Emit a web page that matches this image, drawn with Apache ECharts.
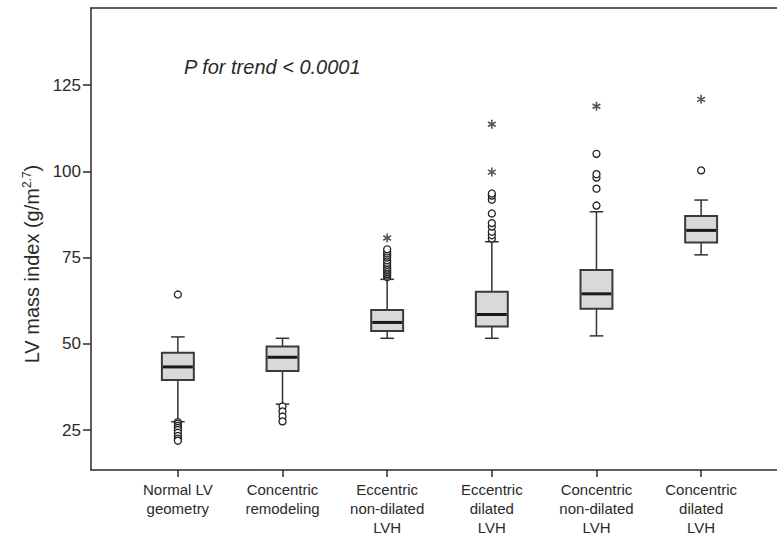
<!DOCTYPE html>
<html><head><meta charset="utf-8">
<script src="https://cdn.jsdelivr.net/npm/echarts@6/dist/echarts.min.js"></script>
<style>html,body{margin:0;padding:0;background:#fff;overflow:hidden}#c{width:777px;height:537px}</style>
</head><body><div id="c"></div>
<script>
const categories = ['Normal LV\ngeometry', 'Concentric\nremodeling', 'Eccentric\nnon-dilated\nLVH', 'Eccentric\ndilated\nLVH', 'Concentric\nnon-dilated\nLVH', 'Concentric\ndilated\nLVH'];
// [lower whisker, Q1, median, Q3, upper whisker]
const boxStats = [
  [27.4, 39.5, 43.3, 47.4, 52.0],
  [32.5, 42.1, 46.1, 49.2, 51.6],
  [51.6, 53.7, 56.2, 59.8, 68.7],
  [51.6, 55.0, 58.5, 65.1, 79.6],
  [52.3, 60.2, 64.5, 71.4, 88.3],
  [75.8, 79.4, 82.9, 87.1, 91.7]
];
const outlierValues = [
  [64.3, 27.3, 26.8, 26.2, 25.6, 25.0, 24.2, 23.3, 22.5, 21.9],
  [31.8, 30.4, 28.9, 27.5],
  [69.3, 69.8, 70.3, 70.8, 71.3, 71.8, 72.3, 72.9, 73.5, 74.2, 75.0, 75.6, 76.2, 76.8, 77.4],
  [80.5, 81.5, 82.5, 84.0, 85.0, 87.8, 91.8, 93.0, 93.6],
  [90.1, 95.0, 98.2, 99.2, 105.1],
  [100.3]
];
const extremeValues = [
  [],
  [],
  [80.7],
  [99.8, 113.7],
  [118.9],
  [120.9]
];
const yTicks = [25, 50, 75, 100, 125];
const annotation = 'P for trend < 0.0001';

const catPos = categories.map((c, i) => i + 1);
const boxData = boxStats.map((s, i) => [catPos[i]].concat(s));
const outData = [];
outlierValues.forEach((arr, i) => arr.forEach(v => outData.push([catPos[i], v])));
const extData = [];
extremeValues.forEach((arr, i) => arr.forEach(v => extData.push([catPos[i], v])));

const ink = '#2a2a2a';
const chart = echarts.init(document.getElementById('c'), null, {renderer: 'svg'});
chart.setOption({
  animation: false,
  backgroundColor: '#fff',
  grid: {left: 91, right: 0, top: 8, bottom: 67, show: false},
  xAxis: [{
    type: 'value', min: 0.17, max: 6.725,
    axisLine: {show: true, lineStyle: {color: ink, width: 1.5}},
    axisTick: {show: true, customValues: catPos, length: 7, lineStyle: {color: ink, width: 1.5}},
    axisLabel: {customValues: catPos, formatter: v => categories[Math.round(v) - 1], fontSize: 15, lineHeight: 19, color: ink, margin: 10, fontFamily: 'Liberation Sans'},
    splitLine: {show: false}
  }, {
    type: 'value', position: 'top', min: 0.17, max: 6.725,
    axisLine: {show: true, lineStyle: {color: ink, width: 1.5}},
    axisTick: {show: false}, axisLabel: {show: false}, splitLine: {show: false}
  }],
  yAxis: {
    type: 'value', min: 13.4, max: 147.4,
    axisLine: {show: true, lineStyle: {color: ink, width: 1.5}},
    axisTick: {show: true, customValues: yTicks, length: 8, lineStyle: {color: ink, width: 1.5}},
    axisLabel: {customValues: yTicks, fontSize: 17, color: ink, margin: 10, fontFamily: 'Liberation Sans'},
    splitLine: {show: false},
    name: '{a|LV mass index (g/m}{s|2.7}{a|)}',
    nameLocation: 'middle', nameGap: 47, nameRotate: 90,
    nameTextStyle: {padding: [0, 50, 0, 0], rich: {a: {fontSize: 20, color: ink, fontFamily: 'Liberation Sans'}, s: {fontSize: 12, color: ink, verticalAlign: 'top', padding: [0, 0, 10, 0], fontFamily: 'Liberation Sans'}}}
  },
  graphic: [{
    type: 'text', left: 184, top: 57,
    style: {text: annotation, fontSize: 20, fontStyle: 'italic', fill: ink, fontFamily: 'Liberation Sans'}
  }],
  series: [
    {
      type: 'custom', data: boxData, z: 2,
      renderItem: function (params, api) {
        const x = api.value(0);
        const unit = api.size([1, 0])[0];
        const bw = unit * 0.305, cw = unit * 0.13;
        const lo = api.coord([x, api.value(1)]);
        const q1 = api.coord([x, api.value(2)]);
        const md = api.coord([x, api.value(3)]);
        const q3 = api.coord([x, api.value(4)]);
        const hi = api.coord([x, api.value(5)]);
        const cx = lo[0];
        const ls = {stroke: '#333', lineWidth: 1.5};
        return {type: 'group', children: [
          {type: 'line', shape: {x1: cx, y1: hi[1], x2: cx, y2: q3[1]}, style: ls},
          {type: 'line', shape: {x1: cx, y1: q1[1], x2: cx, y2: lo[1]}, style: ls},
          {type: 'line', shape: {x1: cx - cw / 2, y1: hi[1], x2: cx + cw / 2, y2: hi[1]}, style: ls},
          {type: 'line', shape: {x1: cx - cw / 2, y1: lo[1], x2: cx + cw / 2, y2: lo[1]}, style: ls},
          {type: 'rect', shape: {x: cx - bw / 2, y: q3[1], width: bw, height: q1[1] - q3[1]}, style: {fill: '#d9d9db', stroke: '#3a3a3a', lineWidth: 2}},
          {type: 'line', shape: {x1: cx - bw / 2 + 1, y1: md[1], x2: cx + bw / 2 - 1, y2: md[1]}, style: {stroke: '#1a1a1a', lineWidth: 3}}
        ]};
      }
    },
    {
      type: 'scatter', data: outData, z: 3, symbol: 'circle', symbolSize: 7,
      itemStyle: {color: '#fff', borderColor: '#222', borderWidth: 1.3, opacity: 1}
    },
    {
      type: 'custom', data: extData, z: 3,
      renderItem: function (params, api) {
        const p = api.coord([api.value(0), api.value(1)]);
        const r = 4.5, s = {stroke: '#555', lineWidth: 1.6};
        const dx = r * Math.cos(Math.PI / 6), dy = r * Math.sin(Math.PI / 6);
        return {type: 'group', children: [
          {type: 'line', shape: {x1: p[0], y1: p[1] - r, x2: p[0], y2: p[1] + r}, style: s},
          {type: 'line', shape: {x1: p[0] - dx, y1: p[1] - dy, x2: p[0] + dx, y2: p[1] + dy}, style: s},
          {type: 'line', shape: {x1: p[0] - dx, y1: p[1] + dy, x2: p[0] + dx, y2: p[1] - dy}, style: s}
        ]};
      }
    }
  ]
});
</script></body></html>
